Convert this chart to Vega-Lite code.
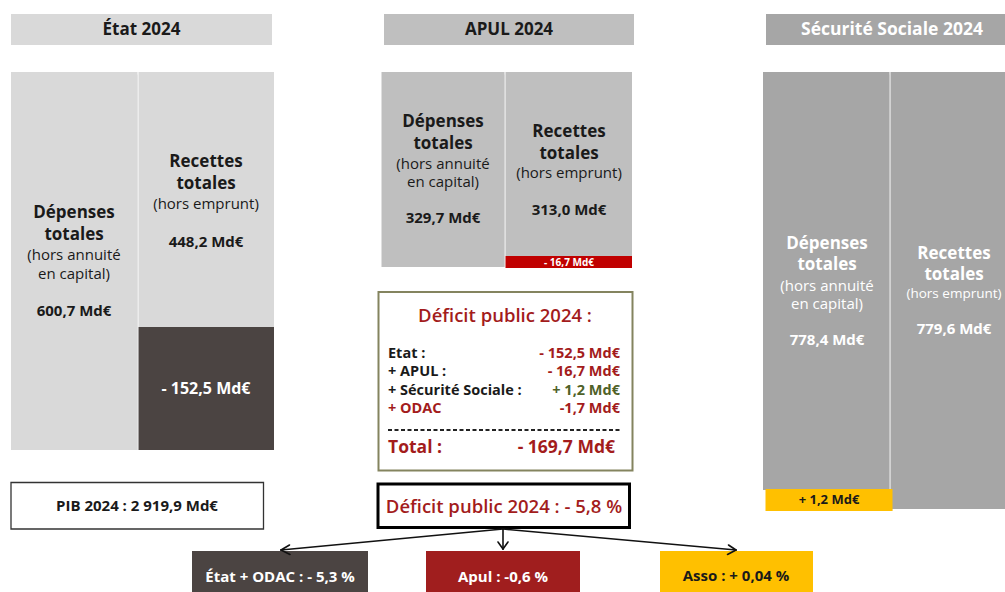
{
  "$schema": "https://vega.github.io/schema/vega-lite/v6.json",
  "width": 1005,
  "height": 592,
  "autosize": {"type": "none"},
  "padding": 0,
  "background": "#ffffff",
  "config": {"view": {"stroke": null}, "font": "Open Sans"},
  "datasets": {
    "blocs": [
      {"x": 11, "x2": 272, "y": 14, "y2": 45, "cat": "État", "zone": "titre"},
      {"x": 384, "x2": 634, "y": 14, "y2": 45, "cat": "APUL", "zone": "titre"},
      {"x": 766, "x2": 1005, "y": 14, "y2": 45, "cat": "Sécurité sociale", "zone": "titre"},
      {"x": 11, "x2": 137.5, "y": 72, "y2": 450, "cat": "État", "zone": "barre"},
      {"x": 138.5, "x2": 274, "y": 72, "y2": 327, "cat": "État", "zone": "barre"},
      {"x": 138.5, "x2": 274, "y": 327, "y2": 450, "cat": "Solde État", "zone": "barre"},
      {"x": 381.5, "x2": 504.5, "y": 72, "y2": 267, "cat": "APUL", "zone": "barre"},
      {"x": 505.5, "x2": 632, "y": 72, "y2": 256, "cat": "APUL", "zone": "barre"},
      {"x": 505.5, "x2": 632, "y": 256, "y2": 268, "cat": "Solde APUL", "zone": "barre"},
      {"x": 763, "x2": 889.5, "y": 72, "y2": 490, "cat": "Sécurité sociale", "zone": "barre"},
      {"x": 890.5, "x2": 1005, "y": 72, "y2": 509, "cat": "Sécurité sociale", "zone": "barre"},
      {"x": 765.5, "x2": 892.5, "y": 489, "y2": 511, "cat": "Solde Sécu", "zone": "barre"},
      {"x": 192, "x2": 368, "y": 551, "y2": 592, "cat": "Solde État", "zone": "contribution"},
      {"x": 426, "x2": 580, "y": 551, "y2": 592, "cat": "Contribution APUL", "zone": "contribution"},
      {"x": 660, "x2": 813, "y": 551, "y2": 592, "cat": "Solde Sécu", "zone": "contribution"}
    ],
    "cadres": [
      {"x": 378.5, "x2": 632.5, "y": 292, "y2": 470.5, "cat": "Déficit Md€"},
      {"x": 11, "x2": 263.5, "y": 482.5, "y2": 529, "cat": "PIB"},
      {"x": 378, "x2": 629.5, "y": 484, "y2": 527.5, "cat": "Déficit %"}
    ],
    "traits": [
      {"x": 503, "y": 529, "x2": 281, "y2": 550, "cat": "flèche"},
      {"x": 281, "y": 550, "x2": 290, "y2": 554.5, "cat": "flèche"},
      {"x": 281, "y": 550, "x2": 289.5, "y2": 545, "cat": "flèche"},
      {"x": 503, "y": 529, "x2": 503, "y2": 549, "cat": "flèche"},
      {"x": 503, "y": 549, "x2": 498, "y2": 542, "cat": "flèche"},
      {"x": 503, "y": 549, "x2": 508, "y2": 542, "cat": "flèche"},
      {"x": 503, "y": 529, "x2": 736, "y2": 550, "cat": "flèche"},
      {"x": 736, "y": 550, "x2": 727.5, "y2": 554.5, "cat": "flèche"},
      {"x": 736, "y": 550, "x2": 728.5, "y2": 545, "cat": "flèche"},
      {"x": 388, "y": 430, "x2": 620, "y2": 430, "cat": "séparateur"}
    ],
    "textes": [
      {"t": "État 2024", "x": 141.5, "y": 30, "r": "titre", "ton": "sombre", "a": "c", "w": "b"},
      {"t": "APUL 2024", "x": 509, "y": 30, "r": "titre", "ton": "sombre", "a": "c", "w": "b"},
      {"t": "Sécurité Sociale 2024", "x": 892, "y": 30, "r": "bandeau", "ton": "clair", "a": "c", "w": "b"},
      {"t": "Dépenses", "x": 74, "y": 213, "r": "titre", "ton": "sombre", "a": "c", "w": "b"},
      {"t": "totales", "x": 74, "y": 235, "r": "titre", "ton": "sombre", "a": "c", "w": "b"},
      {"t": "(hors annuité", "x": 74, "y": 255, "r": "note", "ton": "sombre", "a": "c", "w": "n"},
      {"t": "en capital)", "x": 74, "y": 274, "r": "note", "ton": "sombre", "a": "c", "w": "n"},
      {"t": "600,7 Md€", "x": 74, "y": 311, "r": "montant", "ton": "sombre", "a": "c", "w": "b"},
      {"t": "Recettes", "x": 206, "y": 162, "r": "titre", "ton": "sombre", "a": "c", "w": "b"},
      {"t": "totales", "x": 206, "y": 184, "r": "titre", "ton": "sombre", "a": "c", "w": "b"},
      {"t": "(hors emprunt)", "x": 206, "y": 204, "r": "note", "ton": "sombre", "a": "c", "w": "n"},
      {"t": "448,2 Md€", "x": 206, "y": 242, "r": "montant", "ton": "sombre", "a": "c", "w": "b"},
      {"t": "- 152,5 Md€", "x": 206, "y": 389, "r": "montant_g", "ton": "clair", "a": "c", "w": "b"},
      {"t": "Dépenses", "x": 443, "y": 122, "r": "titre", "ton": "sombre", "a": "c", "w": "b"},
      {"t": "totales", "x": 443, "y": 144, "r": "titre", "ton": "sombre", "a": "c", "w": "b"},
      {"t": "(hors annuité", "x": 443, "y": 164, "r": "note", "ton": "sombre", "a": "c", "w": "n"},
      {"t": "en capital)", "x": 443, "y": 182, "r": "note", "ton": "sombre", "a": "c", "w": "n"},
      {"t": "329,7 Md€", "x": 443, "y": 218, "r": "montant", "ton": "sombre", "a": "c", "w": "b"},
      {"t": "Recettes", "x": 569, "y": 132, "r": "titre", "ton": "sombre", "a": "c", "w": "b"},
      {"t": "totales", "x": 569, "y": 154, "r": "titre", "ton": "sombre", "a": "c", "w": "b"},
      {"t": "(hors emprunt)", "x": 569, "y": 173, "r": "note", "ton": "sombre", "a": "c", "w": "n"},
      {"t": "313,0 Md€", "x": 569, "y": 210, "r": "montant", "ton": "sombre", "a": "c", "w": "b"},
      {"t": "- 16,7 Md€", "x": 569, "y": 262.5, "r": "mini", "ton": "clair", "a": "c", "w": "b"},
      {"t": "Dépenses", "x": 827, "y": 244, "r": "titre", "ton": "clair", "a": "c", "w": "b"},
      {"t": "totales", "x": 827, "y": 265, "r": "titre", "ton": "clair", "a": "c", "w": "b"},
      {"t": "(hors annuité", "x": 827, "y": 286, "r": "note", "ton": "clair", "a": "c", "w": "n"},
      {"t": "en capital)", "x": 827, "y": 304, "r": "note", "ton": "clair", "a": "c", "w": "n"},
      {"t": "778,4 Md€", "x": 827, "y": 340, "r": "montant", "ton": "clair", "a": "c", "w": "b"},
      {"t": "Recettes", "x": 954, "y": 254, "r": "titre", "ton": "clair", "a": "c", "w": "b"},
      {"t": "totales", "x": 954, "y": 275, "r": "titre", "ton": "clair", "a": "c", "w": "b"},
      {"t": "(hors emprunt)", "x": 954, "y": 294, "r": "note_s", "ton": "clair", "a": "c", "w": "n"},
      {"t": "779,6 Md€", "x": 954, "y": 329, "r": "montant", "ton": "clair", "a": "c", "w": "b"},
      {"t": "+ 1,2 Md€", "x": 829, "y": 500, "r": "petit", "ton": "sombre", "a": "c", "w": "b"},
      {"t": "Déficit public 2024 :", "x": 505, "y": 316, "r": "grand", "ton": "rouge", "a": "c", "w": "m"},
      {"t": "Etat  :", "x": 388, "y": 354, "r": "liste", "ton": "sombre", "a": "l", "w": "b"},
      {"t": "+ APUL :", "x": 388, "y": 372, "r": "liste", "ton": "sombre", "a": "l", "w": "b"},
      {"t": "+ Sécurité Sociale :", "x": 388, "y": 390.5, "r": "liste", "ton": "sombre", "a": "l", "w": "b"},
      {"t": "+ ODAC", "x": 388, "y": 409, "r": "liste", "ton": "rouge", "a": "l", "w": "b"},
      {"t": "Total :", "x": 388, "y": 448, "r": "total", "ton": "rouge", "a": "l", "w": "b"},
      {"t": "- 152,5 Md€", "x": 620, "y": 354, "r": "liste", "ton": "rouge", "a": "r", "w": "b"},
      {"t": "- 16,7 Md€", "x": 620, "y": 372, "r": "liste", "ton": "rouge", "a": "r", "w": "b"},
      {"t": "+ 1,2 Md€", "x": 620, "y": 390.5, "r": "liste", "ton": "olive", "a": "r", "w": "b"},
      {"t": "-1,7 Md€", "x": 620, "y": 409, "r": "liste", "ton": "rouge", "a": "r", "w": "b"},
      {"t": "- 169,7 Md€", "x": 615, "y": 448, "r": "total", "ton": "rouge", "a": "r", "w": "b"},
      {"t": "PIB 2024 : 2 919,9 Md€", "x": 137, "y": 506, "r": "ligne", "ton": "sombre", "a": "c", "w": "b"},
      {"t": "Déficit public 2024 : - 5,8 %", "x": 504, "y": 507, "r": "grand", "ton": "rouge", "a": "c", "w": "m"},
      {"t": "État + ODAC : - 5,3 %", "x": 280, "y": 577, "r": "ligne", "ton": "clair", "a": "c", "w": "b"},
      {"t": "Apul : -0,6 %", "x": 503, "y": 577, "r": "ligne", "ton": "clair", "a": "c", "w": "b"},
      {"t": "Asso : + 0,04 %", "x": 736, "y": 576, "r": "ligne", "ton": "sombre", "a": "c", "w": "b"}
    ]
  },
  "resolve": {"scale": {"color": "independent", "fill": "independent", "stroke": "independent"}},
  "layer": [
    {
      "data": {"name": "blocs"},
      "transform": [{"filter": "datum.zone !== 'contribution'"}],
      "mark": {"type": "rect", "fill": "#000000", "opacity": 0.14, "xOffset": 1.5, "yOffset": 2.5},
      "encoding": {
        "x": {"field": "x", "type": "quantitative", "scale": {"domain": [0, 1005], "nice": false, "zero": false}, "axis": null},
        "x2": {"field": "x2"},
        "y": {"field": "y", "type": "quantitative", "scale": {"domain": [0, 592], "nice": false, "zero": false, "reverse": true}, "axis": null},
        "y2": {"field": "y2"}
      }
    },
    {
      "data": {"name": "cadres"},
      "transform": [{"filter": "datum.cat === 'Déficit Md€'"}],
      "mark": {"type": "rect", "fill": "#000000", "opacity": 0.12, "xOffset": 2, "yOffset": 3},
      "encoding": {
        "x": {"field": "x", "type": "quantitative", "scale": {"domain": [0, 1005], "nice": false, "zero": false}, "axis": null},
        "x2": {"field": "x2"},
        "y": {"field": "y", "type": "quantitative", "scale": {"domain": [0, 592], "nice": false, "zero": false, "reverse": true}, "axis": null},
        "y2": {"field": "y2"}
      }
    },
    {
      "data": {"name": "blocs"},
      "mark": {"type": "rect"},
      "encoding": {
        "x": {"field": "x", "type": "quantitative", "scale": {"domain": [0, 1005], "nice": false, "zero": false}, "axis": null},
        "x2": {"field": "x2"},
        "y": {"field": "y", "type": "quantitative", "scale": {"domain": [0, 592], "nice": false, "zero": false, "reverse": true}, "axis": null},
        "y2": {"field": "y2"},
        "fill": {"field": "cat", "type": "nominal", "legend": null,
          "scale": {"domain": ["État", "APUL", "Sécurité sociale", "Solde État", "Solde APUL", "Solde Sécu", "Contribution APUL"],
                    "range": ["#d9d9d9", "#bfbfbf", "#a6a6a6", "#4b4442", "#c00000", "#ffc000", "#a01e1e"]}}
      }
    },
    {
      "data": {"name": "cadres"},
      "transform": [{"filter": "datum.cat === 'Déficit Md€'"}],
      "mark": {"type": "rect", "fill": "#ffffff", "stroke": "#84845f", "strokeWidth": 2},
      "encoding": {
        "x": {"field": "x", "type": "quantitative", "scale": {"domain": [0, 1005], "nice": false, "zero": false}, "axis": null},
        "x2": {"field": "x2"},
        "y": {"field": "y", "type": "quantitative", "scale": {"domain": [0, 592], "nice": false, "zero": false, "reverse": true}, "axis": null},
        "y2": {"field": "y2"}
      }
    },
    {
      "data": {"name": "cadres"},
      "transform": [{"filter": "datum.cat === 'PIB'"}],
      "mark": {"type": "rect", "fill": "#ffffff", "stroke": "#333333", "strokeWidth": 1.3},
      "encoding": {
        "x": {"field": "x", "type": "quantitative", "scale": {"domain": [0, 1005], "nice": false, "zero": false}, "axis": null},
        "x2": {"field": "x2"},
        "y": {"field": "y", "type": "quantitative", "scale": {"domain": [0, 592], "nice": false, "zero": false, "reverse": true}, "axis": null},
        "y2": {"field": "y2"}
      }
    },
    {
      "data": {"name": "cadres"},
      "transform": [{"filter": "datum.cat === 'Déficit %'"}],
      "mark": {"type": "rect", "fill": "#ffffff", "stroke": "#000000", "strokeWidth": 3},
      "encoding": {
        "x": {"field": "x", "type": "quantitative", "scale": {"domain": [0, 1005], "nice": false, "zero": false}, "axis": null},
        "x2": {"field": "x2"},
        "y": {"field": "y", "type": "quantitative", "scale": {"domain": [0, 592], "nice": false, "zero": false, "reverse": true}, "axis": null},
        "y2": {"field": "y2"}
      }
    },
    {
      "data": {"name": "traits"},
      "transform": [{"filter": "datum.cat === 'flèche'"}],
      "mark": {"type": "rule", "stroke": "#111111", "strokeWidth": 1.6, "strokeCap": "round"},
      "encoding": {
        "x": {"field": "x", "type": "quantitative", "scale": {"domain": [0, 1005], "nice": false, "zero": false}, "axis": null},
        "x2": {"field": "x2"},
        "y": {"field": "y", "type": "quantitative", "scale": {"domain": [0, 592], "nice": false, "zero": false, "reverse": true}, "axis": null},
        "y2": {"field": "y2"}
      }
    },
    {
      "data": {"name": "traits"},
      "transform": [{"filter": "datum.cat === 'séparateur'"}],
      "mark": {"type": "rule", "stroke": "#222222", "strokeWidth": 1.8, "strokeDash": [4, 2.5]},
      "encoding": {
        "x": {"field": "x", "type": "quantitative", "scale": {"domain": [0, 1005], "nice": false, "zero": false}, "axis": null},
        "x2": {"field": "x2"},
        "y": {"field": "y", "type": "quantitative", "scale": {"domain": [0, 592], "nice": false, "zero": false, "reverse": true}, "axis": null},
        "y2": {"field": "y2"}
      }
    },
    {
      "data": {"name": "textes"},
      "transform": [{"filter": "datum.a === 'c' && datum.w === 'b'"}],
      "mark": {"type": "text", "align": "center", "baseline": "middle", "fontWeight": "bold", "font": "Open Sans"},
      "encoding": {
        "x": {"field": "x", "type": "quantitative", "scale": {"domain": [0, 1005], "nice": false, "zero": false}, "axis": null},
        "y": {"field": "y", "type": "quantitative", "scale": {"domain": [0, 592], "nice": false, "zero": false, "reverse": true}, "axis": null},
        "text": {"field": "t"},
        "size": {"field": "r", "type": "nominal", "legend": null,
          "scale": {"type": "ordinal", "domain": ["titre", "bandeau", "montant", "montant_g", "mini", "petit", "note", "note_s", "grand", "ligne", "liste", "total"], "range": [17, 17.5, 15, 16, 10, 13, 15, 13.5, 18.5, 15, 14.5, 17.5]}},
        "color": {"field": "ton", "type": "nominal", "legend": null,
          "scale": {"domain": ["sombre", "clair", "rouge", "olive"], "range": ["#1a1a1a", "#ffffff", "#a31c1c", "#4f6228"]}}
      }
    },
    {
      "data": {"name": "textes"},
      "transform": [{"filter": "datum.a === 'c' && datum.w === 'n'"}],
      "mark": {"type": "text", "align": "center", "baseline": "middle", "fontWeight": "normal", "font": "Open Sans"},
      "encoding": {
        "x": {"field": "x", "type": "quantitative", "scale": {"domain": [0, 1005], "nice": false, "zero": false}, "axis": null},
        "y": {"field": "y", "type": "quantitative", "scale": {"domain": [0, 592], "nice": false, "zero": false, "reverse": true}, "axis": null},
        "text": {"field": "t"},
        "size": {"field": "r", "type": "nominal", "legend": null,
          "scale": {"type": "ordinal", "domain": ["titre", "bandeau", "montant", "montant_g", "mini", "petit", "note", "note_s", "grand", "ligne", "liste", "total"], "range": [17, 17.5, 15, 16, 10, 13, 15, 13.5, 18.5, 15, 14.5, 17.5]}},
        "color": {"field": "ton", "type": "nominal", "legend": null,
          "scale": {"domain": ["sombre", "clair", "rouge", "olive"], "range": ["#1a1a1a", "#ffffff", "#a31c1c", "#4f6228"]}}
      }
    },
    {
      "data": {"name": "textes"},
      "transform": [{"filter": "datum.a === 'c' && datum.w === 'm'"}],
      "mark": {"type": "text", "align": "center", "baseline": "middle", "fontWeight": 600, "font": "Open Sans"},
      "encoding": {
        "x": {"field": "x", "type": "quantitative", "scale": {"domain": [0, 1005], "nice": false, "zero": false}, "axis": null},
        "y": {"field": "y", "type": "quantitative", "scale": {"domain": [0, 592], "nice": false, "zero": false, "reverse": true}, "axis": null},
        "text": {"field": "t"},
        "size": {"field": "r", "type": "nominal", "legend": null,
          "scale": {"type": "ordinal", "domain": ["titre", "bandeau", "montant", "montant_g", "mini", "petit", "note", "note_s", "grand", "ligne", "liste", "total"], "range": [17, 17.5, 15, 16, 10, 13, 15, 13.5, 18, 15, 14.5, 17.5]}},
        "color": {"field": "ton", "type": "nominal", "legend": null,
          "scale": {"domain": ["sombre", "clair", "rouge", "olive"], "range": ["#1a1a1a", "#ffffff", "#a31c1c", "#4f6228"]}}
      }
    },
    {
      "data": {"name": "textes"},
      "transform": [{"filter": "datum.a === 'l'"}],
      "mark": {"type": "text", "align": "left", "baseline": "middle", "fontWeight": "bold", "font": "Open Sans"},
      "encoding": {
        "x": {"field": "x", "type": "quantitative", "scale": {"domain": [0, 1005], "nice": false, "zero": false}, "axis": null},
        "y": {"field": "y", "type": "quantitative", "scale": {"domain": [0, 592], "nice": false, "zero": false, "reverse": true}, "axis": null},
        "text": {"field": "t"},
        "size": {"field": "r", "type": "nominal", "legend": null,
          "scale": {"type": "ordinal", "domain": ["titre", "bandeau", "montant", "montant_g", "mini", "petit", "note", "note_s", "grand", "ligne", "liste", "total"], "range": [17, 17.5, 15, 16, 10, 13, 15, 13.5, 18.5, 15, 14.5, 17.5]}},
        "color": {"field": "ton", "type": "nominal", "legend": null,
          "scale": {"domain": ["sombre", "clair", "rouge", "olive"], "range": ["#1a1a1a", "#ffffff", "#a31c1c", "#4f6228"]}}
      }
    },
    {
      "data": {"name": "textes"},
      "transform": [{"filter": "datum.a === 'r'"}],
      "mark": {"type": "text", "align": "right", "baseline": "middle", "fontWeight": "bold", "font": "Open Sans"},
      "encoding": {
        "x": {"field": "x", "type": "quantitative", "scale": {"domain": [0, 1005], "nice": false, "zero": false}, "axis": null},
        "y": {"field": "y", "type": "quantitative", "scale": {"domain": [0, 592], "nice": false, "zero": false, "reverse": true}, "axis": null},
        "text": {"field": "t"},
        "size": {"field": "r", "type": "nominal", "legend": null,
          "scale": {"type": "ordinal", "domain": ["titre", "bandeau", "montant", "montant_g", "mini", "petit", "note", "note_s", "grand", "ligne", "liste", "total"], "range": [17, 17.5, 15, 16, 10, 13, 15, 13.5, 18.5, 15, 14.5, 17.5]}},
        "color": {"field": "ton", "type": "nominal", "legend": null,
          "scale": {"domain": ["sombre", "clair", "rouge", "olive"], "range": ["#1a1a1a", "#ffffff", "#a31c1c", "#4f6228"]}}
      }
    }
  ]
}
